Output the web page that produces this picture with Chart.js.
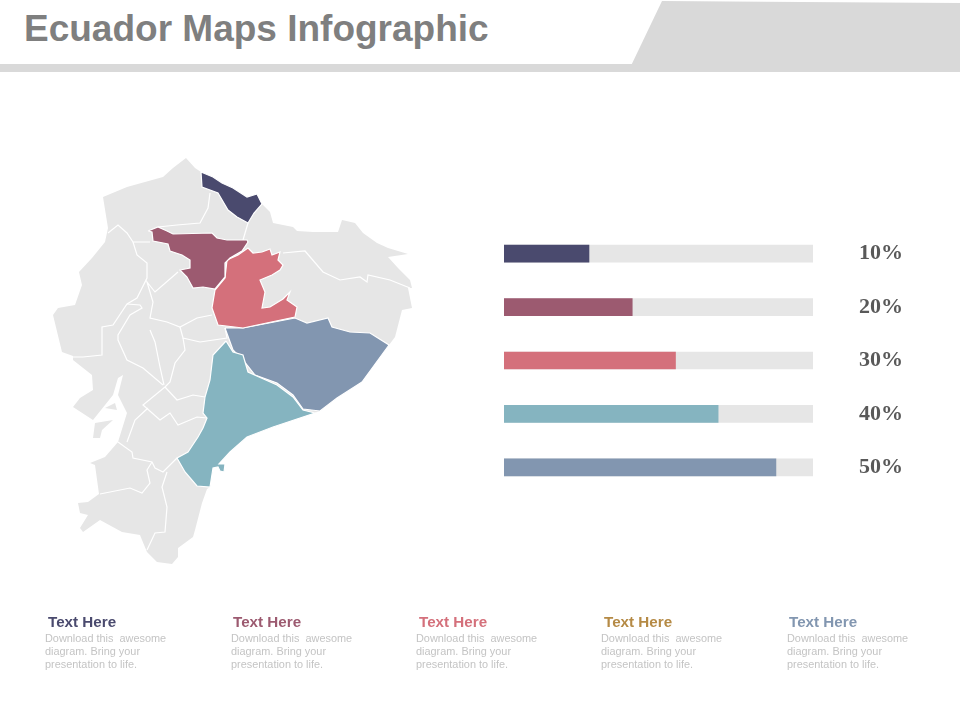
<!DOCTYPE html>
<html><head><meta charset="utf-8">
<script src="https://cdn.jsdelivr.net/npm/chart.js@4/dist/chart.umd.min.js"></script>
<style>
html,body{margin:0;padding:0;background:#fff;width:960px;height:720px;overflow:hidden;font-family:"Liberation Sans",Arial,sans-serif}
#band{position:absolute;left:0;top:64px;width:960px;height:8px;background:#d9d9d9}
#wedge{position:absolute;left:628px;top:0;width:332px;height:72px;background:#d9d9d9;clip-path:polygon(34px 1px,332px 3px,332px 72px,0 72px)}
h1{position:absolute;left:24px;top:8px;margin:0;font-size:37px;line-height:42px;font-weight:700;color:#7f7f7f;white-space:nowrap}
#map{position:absolute;left:0;top:0}
#bars{position:absolute;left:504px;top:227px}
.head{position:absolute;top:613px;font-size:15.2px;line-height:17px;font-weight:700;white-space:nowrap}
.body{position:absolute;top:632px;font-size:10.9px;line-height:13px;color:#c4c4c4;white-space:pre}
</style></head><body>
<div id="band"></div><div id="wedge"></div>
<h1>Ecuador Maps Infographic</h1>
<canvas id="map" width="480" height="720"></canvas>
<canvas id="bars" width="399" height="267"></canvas>
<div id="notes"></div>
<script>
const categories = ["10%","20%","30%","40%","50%"];
const barValues = [27.5,41.5,55.5,69.3,88];
const trackValues = [100,100,100,100,100];
const colors = ["#4a4a6e","#9c5a70","#d4707b","#85b4c0","#8296b0"];
const headColors = ["#4a4a6e","#9c5a70","#d4707b","#b58a45","#8296b0"];
const headX = [48,233,419,604,789];
const bodyX = [45,231,416,601,787];
const noteHead = "Text Here";
const noteBody = "Download this  awesome\ndiagram. Bring your\npresentation to life.";

const country = [[186,158],[195,168],[201,172],[213,177],[222,183],[233,188],[247,197],[257,194],[262,204],[270,212],[273,223],[293,227],[297,231],[313,232],[338,232],[342,220],[355,223],[363,233],[377,243],[388,248],[408,254],[388,257],[398,268],[410,280],[412,288],[408,288],[412,308],[402,310],[395,337],[389,345],[362,382],[337,398],[320,411],[273,427],[247,437],[230,452],[220,463],[213,467],[210,487],[207,489],[202,503],[195,530],[193,537],[178,548],[178,557],[172,564],[157,562],[147,552],[142,540],[140,535],[122,532],[100,520],[83,532],[80,528],[88,515],[80,513],[78,503],[88,502],[99,494],[95,465],[90,463],[105,457],[118,442],[127,413],[118,395],[123,375],[118,378],[113,395],[93,420],[73,407],[80,398],[93,390],[92,375],[73,360],[73,356],[62,352],[53,315],[58,308],[75,305],[82,285],[79,272],[92,258],[105,242],[108,228],[103,197],[127,187],[163,177],[173,168],[186,158]];
const islandA = [[93,438],[95,423],[113,420],[102,430],[100,438],[93,438]];
const islandB = [[105,408],[115,403],[117,410],[105,408]];
const borders = [
 [[210,193],[208,208],[200,223],[177,225],[158,227]],
 [[150,242],[133,242],[127,233],[118,225],[108,233]],
 [[133,242],[137,255],[147,263],[147,278],[137,298],[127,304],[113,325],[102,327],[102,355],[83,357],[73,357]],
 [[127,304],[140,305],[142,308],[130,315],[118,335],[118,340],[127,360],[143,368],[163,385]],
 [[248,223],[243,240]],
 [[178,272],[155,292],[147,282],[153,302],[150,318],[167,322],[180,327],[197,318],[212,315]],
 [[180,327],[183,338],[200,342],[227,338],[225,328]],
 [[183,338],[185,350],[175,363],[170,382],[165,387]],
 [[150,330],[155,342],[160,367],[164,385]],
 [[165,387],[177,400],[193,395],[205,397]],
 [[165,387],[143,405],[160,420],[170,413],[178,425],[197,417],[207,418]],
 [[148,408],[135,420],[127,442]],
 [[118,442],[132,452],[133,458],[152,462],[155,468],[163,472],[177,458]],
 [[152,462],[147,470],[150,483],[142,493],[130,488],[100,494]],
 [[167,472],[162,487],[167,507],[165,532],[155,533],[147,550]],
 [[283,253],[305,251],[323,272],[340,280],[360,277],[367,282],[368,275],[390,280],[410,288]]
];
const regionNavy = [[201,172],[213,177],[222,183],[233,188],[247,197],[257,194],[262,204],[254,213],[248,223],[237,217],[228,210],[218,193],[202,187],[201,172]];
const regionMaroon = [[148,231],[158,227],[167,231],[173,234],[212,233],[217,238],[227,240],[247,240],[248,242],[242,251],[230,258],[225,263],[225,277],[215,289],[203,287],[193,288],[187,277],[180,270],[190,268],[190,260],[182,255],[170,251],[168,244],[153,241],[152,232],[148,231]];
const regionCoral = [[248,248],[253,253],[262,252],[270,249],[272,255],[280,252],[278,260],[283,265],[280,270],[272,275],[260,280],[265,292],[262,308],[270,307],[283,299],[290,292],[287,300],[297,307],[295,317],[243,328],[218,325],[212,308],[215,290],[225,278],[227,260],[238,255],[248,248]];
const regionSteel = [[225,328],[243,328],[295,318],[307,323],[328,318],[332,327],[350,332],[370,333],[389,345],[362,382],[337,398],[320,411],[303,409],[293,395],[277,383],[255,375],[243,360],[233,350],[225,328]];
const regionTeal = [[226,341],[233,352],[243,355],[248,372],[277,385],[293,397],[303,410],[315,413],[273,427],[247,437],[230,452],[219,464],[225,464],[224,472],[220,471],[218,467],[213,468],[210,487],[197,486],[185,472],[177,458],[188,452],[198,437],[203,428],[207,418],[203,413],[205,397],[210,380],[213,355],[226,341]];

const pts = a => a.map(p => ({x:p[0],y:p[1]}));
const area = (a,c,b) => ({data:pts(a),showLine:true,fill:'shape',backgroundColor:c,borderColor:b||c,borderWidth:b?1.2:0,pointRadius:0,tension:0});
// Chart.js paints the first dataset last, so the topmost layer comes first.
const mapSets = [
  area(regionNavy,colors[0],"#ffffff"),area(regionMaroon,colors[1],"#ffffff"),area(regionCoral,colors[2],"#ffffff"),
  area(regionTeal,colors[3],"#ffffff"),area(regionSteel,colors[4],"#ffffff"),
  ...borders.map(b=>({data:pts(b),showLine:true,fill:false,borderColor:"#ffffff",borderWidth:1.2,pointRadius:0,tension:0})),
  area(islandB,"#e6e6e6"),area(islandA,"#e6e6e6"),area(country,"#e6e6e6")
];
new Chart(document.getElementById('map'),{type:'scatter',data:{datasets:mapSets},options:{
  responsive:false,animation:false,layout:{padding:0},
  plugins:{legend:{display:false},tooltip:{enabled:false}},
  scales:{x:{type:'linear',display:false,min:0,max:480},y:{type:'linear',display:false,reverse:true,min:0,max:720}}
}});
new Chart(document.getElementById('bars'),{type:'bar',data:{labels:categories,datasets:[
  {data:barValues,backgroundColor:colors,grouped:false,barThickness:17,order:1},
  {data:trackValues,backgroundColor:"#e6e6e6",grouped:false,barThickness:17,order:2}
]},options:{
  indexAxis:'y',responsive:false,animation:false,layout:{padding:0},
  plugins:{legend:{display:false},tooltip:{enabled:false}},
  scales:{
    x:{display:false,min:0,max:100},
    y:{position:'right',grid:{display:false,drawTicks:false},border:{display:false},
       afterFit:s=>{s.width=90;s.paddingTop=0;s.paddingBottom=0;},
       ticks:{padding:0,crossAlign:'far',color:"#595959",font:{family:"Liberation Serif",size:22,weight:'bold'}}}
  }
}});
const notes=document.getElementById('notes');
headX.forEach((x,i)=>{
  const h=document.createElement('div');h.className='head';h.style.left=x+'px';h.style.color=headColors[i];h.textContent=noteHead;notes.appendChild(h);
  const b=document.createElement('div');b.className='body';b.style.left=bodyX[i]+'px';b.textContent=noteBody;notes.appendChild(b);
});
</script>
</body></html>
